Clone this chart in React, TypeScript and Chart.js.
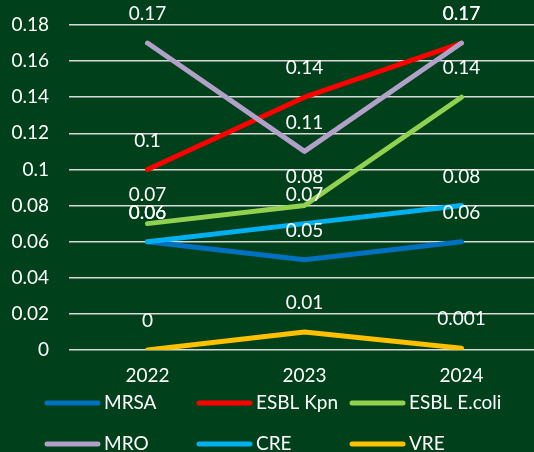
import React, { useEffect, useRef } from "react";
import { Chart, registerables } from "chart.js";

Chart.register(...registerables);

const categories = ["2022", "2023", "2024"];
const seriesNames = ["MRSA", "ESBL Kpn", "ESBL E.coli", "MRO", "CRE", "VRE"];
const mrsa = [0.06, 0.05, 0.06];
const esblKpn = [0.1, 0.14, 0.17];
const esblEcoli = [0.07, 0.08, 0.14];
const mro = [0.17, 0.11, 0.17];
const cre = [0.06, 0.07, 0.08];
const vre = [0, 0.01, 0.001];
const seriesValues = [mrsa, esblKpn, esblEcoli, mro, cre, vre];
const seriesColors = ["#0070C0", "#FF0000", "#92D050", "#B1A0C7", "#00B0F0", "#FFC000"];

const BG = "#00401A";
const FONT = "Lato, 'DejaVu Sans', sans-serif";
const FS = 19;

export default function App() {
  const ref = useRef<HTMLCanvasElement | null>(null);

  useEffect(() => {
    document.body.style.margin = "0";
    document.body.style.overflow = "hidden";
    const canvas = ref.current;
    if (!canvas) return;

    const bgPlugin = {
      id: "bg",
      beforeDraw(chart: any) {
        const { ctx, width, height } = chart;
        ctx.save();
        ctx.fillStyle = BG;
        ctx.fillRect(0, 0, width, height);
        ctx.restore();
      },
    };

    const labelPlugin = {
      id: "valueLabels",
      afterDatasetsDraw(chart: any) {
        const ctx = chart.ctx;
        ctx.save();
        ctx.fillStyle = "#FFFFFF";
        ctx.font = `${FS}px ${FONT}`;
        ctx.textAlign = "center";
        ctx.textBaseline = "middle";
        chart.data.datasets.forEach((ds: any, i: number) => {
          const meta = chart.getDatasetMeta(i);
          meta.data.forEach((pt: any, j: number) => {
            ctx.fillText(String(ds.data[j]), pt.x, pt.y - 29);
          });
        });
        ctx.restore();
      },
    };

    const legendPlugin = {
      id: "customLegend",
      afterDraw(chart: any) {
        const ctx = chart.ctx;
        const colX = [45, 197, 350];
        const rowY = [403, 444];
        ctx.save();
        ctx.font = `${FS}px ${FONT}`;
        ctx.textBaseline = "middle";
        ctx.textAlign = "left";
        chart.data.datasets.forEach((ds: any, i: number) => {
          const x = colX[i % 3];
          const y = rowY[Math.floor(i / 3)];
          ctx.strokeStyle = ds.borderColor;
          ctx.lineWidth = 5;
          ctx.lineCap = "round";
          ctx.beginPath();
          ctx.moveTo(x + 2, y);
          ctx.lineTo(x + 53, y);
          ctx.stroke();
          ctx.fillStyle = "#FFFFFF";
          ctx.fillText(ds.label, x + 59, y);
        });
        ctx.restore();
      },
    };

    const chart = new Chart(canvas, {
      type: "line",
      data: {
        labels: categories,
        datasets: seriesNames.map((name, i) => ({
          label: name,
          data: seriesValues[i],
          borderColor: seriesColors[i],
          backgroundColor: seriesColors[i],
          borderWidth: 5,
          borderCapStyle: "round",
          borderJoinStyle: "round",
          pointRadius: 0,
          tension: 0,
          order: 10 - i,
        })),
      },
      options: {
        animation: false,
        responsive: false,
        maintainAspectRatio: false,
        layout: { padding: { top: 25, right: 2, left: 0, bottom: 0 } },
        plugins: {
          legend: { display: false },
          tooltip: { enabled: false },
        },
        scales: {
          x: {
            offset: true,
            grid: { display: false, drawTicks: false },
            border: { display: false },
            ticks: {
              color: "#FFFFFF",
              font: { family: FONT, size: FS },
              padding: 14,
              maxRotation: 0,
            },
            afterFit(scale: any) {
              scale.height = 102;
              scale.paddingLeft = 0;
              scale.paddingRight = 0;
            },
          },
          y: {
            min: 0,
            max: 0.18,
            border: { display: false },
            grid: { color: "#D9D9D9", lineWidth: 1.5, drawTicks: false },
            ticks: {
              stepSize: 0.02,
              color: "#FFFFFF",
              font: { family: FONT, size: FS },
              padding: 20,
              callback: (v: any) => String(parseFloat(Number(v).toFixed(3))),
            },
            afterFit(scale: any) {
              scale.width = 69;
              scale.paddingTop = 0;
              scale.paddingBottom = 0;
            },
          },
        },
      },
      plugins: [bgPlugin, labelPlugin, legendPlugin],
    } as any);

    return () => chart.destroy();
  }, []);

  return (
    <div style={{ position: "absolute", left: 0, top: 0, width: 534, height: 452, overflow: "hidden", background: BG }}>
      <canvas ref={ref} width={542} height={452} style={{ display: "block", width: 542, height: 452 }} />
    </div>
  );
}
